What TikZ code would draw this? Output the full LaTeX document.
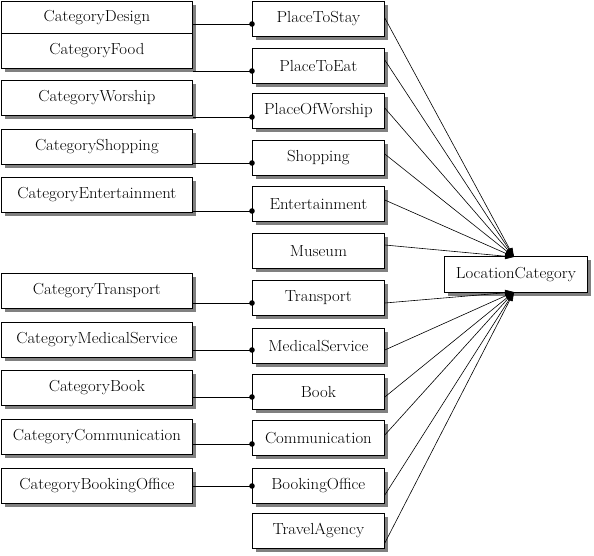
\documentclass[tikz,border=0pt]{standalone}
\usetikzlibrary{arrows.meta,shadows}
\newcommand{\wtx}[1]{\scalebox{1.05}[1]{#1}}
\begin{document}
\begin{tikzpicture}[x=1pt,y=-1pt,
  box/.style={draw, fill=white, line width=0.8pt, inner sep=0pt, anchor=north west,
    font=\fontsize{16}{19}\selectfont,
    drop shadow={shadow xshift=3.5pt, shadow yshift=-3.5pt, fill=black!50, opacity=1}},
  lbox/.style={box, minimum width=191pt, minimum height=35pt},
  mbox/.style={box, minimum width=132pt, minimum height=35pt},
  conn/.style={line width=0.8pt},
  arr/.style={line width=0.6pt, -{Triangle[length=9pt,width=6pt]}},
  dotr/.style={fill=black}]
\useasboundingbox (0,0) rectangle (594,555);
% left column
\node[lbox, minimum height=32pt] (cdes) at (1,1) {\wtx{CategoryDesign}};
\node[lbox] (cfood) at (1,33) {\wtx{CategoryFood}};
\node[lbox] (cwor) at (1,80) {\wtx{CategoryWorship}};
\node[lbox] (cshop) at (1,129) {\wtx{CategoryShopping}};
\node[lbox] (cent) at (1,177) {\wtx{CategoryEntertainment}};
\node[lbox] (ctra) at (1,273) {\wtx{CategoryTransport}};
\node[lbox] (cmed) at (1,322) {\wtx{CategoryMedicalService}};
\node[lbox] (cbook) at (1,370) {\wtx{CategoryBook}};
\node[lbox] (ccom) at (1,419) {\wtx{CategoryCommunication}};
\node[lbox] (cbo) at (1,468) {\wtx{CategoryBookingOffice}};
% middle column
\node[mbox] (stay) at (252,1) {\wtx{PlaceToStay}};
\node[mbox] (eat) at (252,48) {\wtx{PlaceToEat}};
\node[mbox] (wor) at (252,93) {\wtx{PlaceOfWorship}};
\node[mbox] (shop) at (252,140) {\wtx{Shopping}};
\node[mbox] (ent) at (252,186) {\wtx{Entertainment}};
\node[mbox] (mus) at (252,233) {\wtx{Museum}};
\node[mbox] (tra) at (252,280) {\wtx{Transport}};
\node[mbox] (med) at (252,328) {\wtx{MedicalService}};
\node[mbox] (book) at (252,374) {\wtx{Book}};
\node[mbox] (com) at (252,420) {\wtx{Communication}};
\node[mbox] (bo) at (252,468) {\wtx{BookingOffice}};
\node[mbox] (ta) at (252,513) {\wtx{TravelAgency}};
% target
\node[box, minimum width=143pt, minimum height=36pt] (loc) at (444,256) {\wtx{LocationCategory}};
\coordinate (tin) at (514,257);
\coordinate (bin) at (514,292);
% connectors with dots
\foreach \a/\b/\y in {cdes/stay/24, cfood/eat/71, cwor/wor/117, cshop/shop/163, cent/ent/211,
  ctra/tra/303, cmed/med/350, cbook/book/397, ccom/com/444, cbo/bo/486} {
  \draw[conn] (\a.east |- 0,\y) -- (\b.west |- 0,\y);
  \fill[dotr] (\b.west |- 0,\y) circle (2.8pt);
}
% arrows to LocationCategory
\foreach \m/\y in {stay/18, eat/60, wor/108, shop/154, ent/200, mus/245} {
  \draw[arr] (\m.east |- 0,\y) -- (tin);
}
\foreach \m/\y in {tra/303, med/350, book/397, com/435, bo/495, ta/543} {
  \draw[arr] (\m.east |- 0,\y) -- (bin);
}
\end{tikzpicture}
\end{document}
